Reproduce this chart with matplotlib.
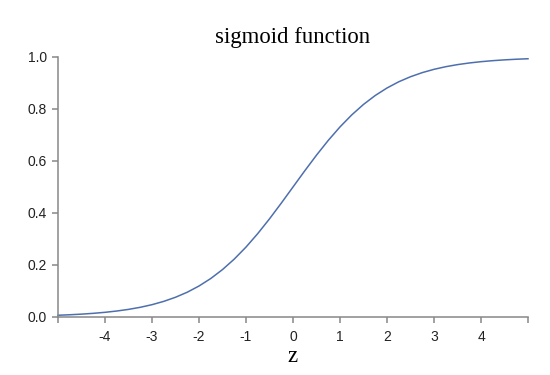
import matplotlib
matplotlib.use('Agg')
import matplotlib.pyplot as plt

z = [-5, -4.75, -4.5, -4.25, -4, -3.75, -3.5, -3.25, -3, -2.75, -2.5, -2.25, -2,
     -1.75, -1.5, -1.25, -1, -0.75, -0.5, -0.25, 0, 0.25, 0.5, 0.75, 1, 1.25,
     1.5, 1.75, 2, 2.25, 2.5, 2.75, 3, 3.25, 3.5, 3.75, 4, 4.25, 4.5, 4.75, 5]
s = [0.0067, 0.0086, 0.0110, 0.0141, 0.0180, 0.0230, 0.0293, 0.0373, 0.0474,
     0.0601, 0.0759, 0.0953, 0.1192, 0.1480, 0.1824, 0.2227, 0.2689, 0.3208,
     0.3775, 0.4378, 0.5, 0.5622, 0.6225, 0.6792, 0.7311, 0.7773, 0.8176,
     0.8520, 0.8808, 0.9047, 0.9241, 0.9399, 0.9526, 0.9627, 0.9707, 0.9770,
     0.9820, 0.9859, 0.9890, 0.9914, 0.9933]

xticks = [-4, -3, -2, -1, 0, 1, 2, 3, 4]
yticks = [0.0, 0.2, 0.4, 0.6, 0.8, 1.0]

fig = plt.figure(figsize=(5.5, 3.75), dpi=100)
ax = fig.add_axes([58 / 550, 58 / 375, 470 / 550, 260 / 375])

ax.plot(z, s, color='#4e6fae', linewidth=1.1, clip_on=False)

ax.set_xlim(-5, 5)
ax.set_ylim(0, 1)

ax.set_xticks(xticks)
ax.set_xticklabels([str(t) for t in xticks])
ax.set_xticks([-5, 5], minor=True)
ax.set_yticks(yticks)
ax.set_yticklabels(['%.1f' % t for t in yticks])

grey = '#888888'
for side in ['top', 'right']:
    ax.spines[side].set_visible(False)
for side in ['left', 'bottom']:
    ax.spines[side].set_color(grey)
    ax.spines[side].set_linewidth(1.1)

ax.tick_params(which='both', length=4.3, width=1.1, color=grey,
               labelsize=10, labelcolor='#222222', direction='out')
ax.tick_params(axis='x', pad=5)
ax.tick_params(axis='y', pad=3.5)
for lbl in ax.get_xticklabels() + ax.get_yticklabels():
    lbl.set_family(['Liberation Sans', 'DejaVu Sans'])

fig.text(0.5 * (58 + 528) / 550, 1 - 37 / 375, 'sigmoid function',
         family='Liberation Serif', fontsize=16.4, ha='center', va='center')
fig.text(293 / 550, 1 - 356 / 375, 'z',
         family='Liberation Serif', fontsize=16.4, ha='center', va='center')

fig.savefig('out.png', dpi=100)
